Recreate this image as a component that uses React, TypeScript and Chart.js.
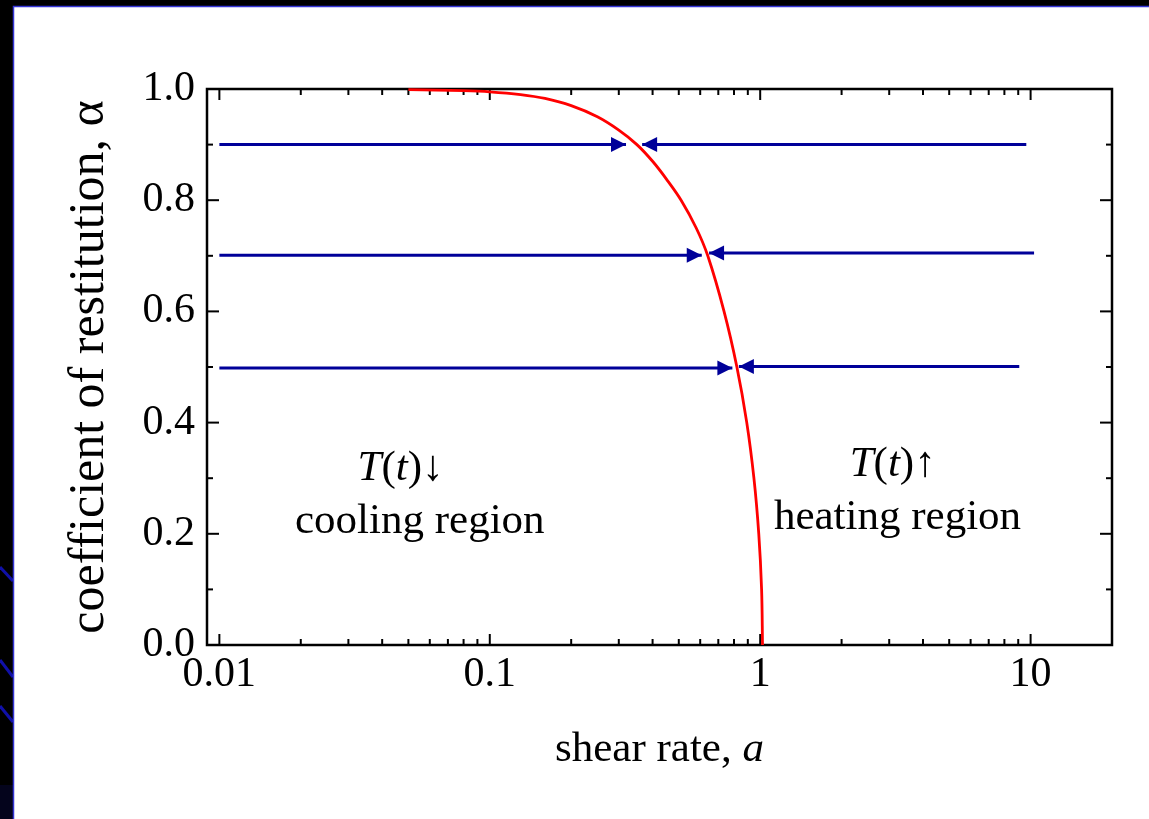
import React, { useEffect, useRef } from 'react';
import { Chart, registerables } from 'chart.js';

Chart.register(...registerables);

// ---- data ----
const curveA = [0.05, 0.08, 0.1, 0.13, 0.16, 0.2, 0.25, 0.3, 0.35, 0.4, 0.45, 0.51, 0.58, 0.64, 0.735, 0.82, 0.892, 0.948, 0.988, 1.012, 1.02];
const curveAlpha = [0.999, 0.997, 0.995, 0.99, 0.983, 0.97, 0.95, 0.926, 0.9, 0.87, 0.838, 0.8, 0.75, 0.7, 0.6, 0.5, 0.4, 0.3, 0.2, 0.1, 0.0];

const leftArrowLevels = [0.9, 0.701, 0.498];
const leftArrowStart = [0.01, 0.01, 0.01];
const leftArrowTip = [0.319, 0.608, 0.789];

const rightArrowLevels = [0.9, 0.705, 0.501];
const rightArrowStart = [9.64, 10.3, 9.08];
const rightArrowTip = [0.366, 0.647, 0.834];

const xMajorTicks = [0.01, 0.1, 1, 10];
const xTickLabels = ['0.01', '0.1', '1', '10'];
const xMinorTicks = [0.02, 0.03, 0.04, 0.05, 0.06, 0.07, 0.08, 0.09, 0.2, 0.3, 0.4, 0.5, 0.6, 0.7, 0.8, 0.9, 2, 3, 4, 5, 6, 7, 8, 9, 20];
const yMajorTicks = [0, 0.2, 0.4, 0.6, 0.8, 1.0];
const yTickLabels = ['0.0', '0.2', '0.4', '0.6', '0.8', '1.0'];
const yMinorTicks = [0.1, 0.3, 0.5, 0.7, 0.9];

const xTitleParts: [string, boolean][] = [['shear rate, ', false], ['a', true]];
const yTitle = 'coefficient of restitution, α';

// annotation texts anchored in data coordinates (a, alpha of baseline)
const annotations: { a: number; alpha: number; parts: [string, boolean][] }[] = [
  { a: 0.0468, alpha: 0.297, parts: [['T', true], ['(', false], ['t', true], [')↓', false]] },
  { a: 0.0551, alpha: 0.2018, parts: [['cooling region', false]] },
  { a: 3.09, alpha: 0.3045, parts: [['T', true], ['(', false], ['t', true], [')↑', false]] },
  { a: 3.22, alpha: 0.209, parts: [['heating region', false]] },
];

const FONT = "'Liberation Serif', 'Times New Roman', serif";
const NAVY = '#000099';

function drawRich(ctx: CanvasRenderingContext2D, parts: [string, boolean][], cx: number, baseline: number, size: number) {
  let total = 0;
  const widths = parts.map(([t, it]) => {
    ctx.font = `${it ? 'italic ' : ''}${size}px ${FONT}`;
    const w = ctx.measureText(t).width;
    total += w;
    return w;
  });
  let x = cx - total / 2;
  ctx.textAlign = 'left';
  ctx.textBaseline = 'alphabetic';
  ctx.fillStyle = '#000';
  parts.forEach(([t, it], i) => {
    ctx.font = `${it ? 'italic ' : ''}${size}px ${FONT}`;
    ctx.fillText(t, x, baseline);
    x += widths[i];
  });
}

const backgroundPlugin = {
  id: 'slideBackground',
  beforeDraw(chart: any) {
    const { ctx, width, height } = chart;
    ctx.save();
    ctx.fillStyle = '#ffffff';
    ctx.fillRect(0, 0, width, height);
    ctx.fillStyle = '#000000';
    ctx.fillRect(0, 0, width, 6);
    ctx.fillRect(0, 0, 13, height);
    ctx.fillStyle = '#04041c';
    ctx.fillRect(0, 785, 13, height - 785);
    ctx.strokeStyle = '#1010a8';
    ctx.lineWidth = 3;
    [[567, 581], [660, 677], [706, 722]].forEach(([y1, y2]) => {
      ctx.beginPath();
      ctx.moveTo(0, y1);
      ctx.lineTo(13, y2);
      ctx.stroke();
    });
    ctx.strokeStyle = '#3535d5';
    ctx.lineWidth = 1.5;
    ctx.beginPath();
    ctx.moveTo(13.5, height);
    ctx.lineTo(13.5, 6.5);
    ctx.lineTo(width, 6.5);
    ctx.stroke();
    ctx.restore();
  },
};

const framePlugin = {
  id: 'frameTicks',
  beforeDatasetsDraw(chart: any) {
    const { ctx, chartArea: ca, scales } = chart;
    const xs = scales.x;
    const ys = scales.y;
    ctx.save();
    ctx.strokeStyle = '#000';
    ctx.lineWidth = 2;
    const tick = (x1: number, y1: number, x2: number, y2: number) => {
      ctx.beginPath();
      ctx.moveTo(x1, y1);
      ctx.lineTo(x2, y2);
      ctx.stroke();
    };
    xMajorTicks.forEach((v) => {
      const px = xs.getPixelForValue(v);
      tick(px, ca.bottom, px, ca.bottom - 11);
      tick(px, ca.top, px, ca.top + 11);
    });
    xMinorTicks.forEach((v) => {
      const px = xs.getPixelForValue(v);
      tick(px, ca.bottom, px, ca.bottom - 6);
      tick(px, ca.top, px, ca.top + 6);
    });
    yMajorTicks.forEach((v) => {
      const py = ys.getPixelForValue(v);
      tick(ca.left, py, ca.left + 12, py);
      tick(ca.right, py, ca.right - 12, py);
    });
    yMinorTicks.forEach((v) => {
      const py = ys.getPixelForValue(v);
      tick(ca.left, py, ca.left + 6, py);
      tick(ca.right, py, ca.right - 6, py);
    });
    ctx.lineWidth = 2.5;
    ctx.strokeRect(ca.left, ca.top, ca.right - ca.left, ca.bottom - ca.top);
    ctx.restore();
  },
  afterDatasetsDraw(chart: any) {
    const { ctx, chartArea: ca, scales } = chart;
    ctx.save();
    // arrow heads
    chart.data.datasets.forEach((ds: any, i: number) => {
      if (!ds.arrow) return;
      const pts = chart.getDatasetMeta(i).data;
      const tip = pts[pts.length - 1];
      const prev = pts[pts.length - 2];
      const dir = Math.sign(tip.x - prev.x) || 1;
      const L = 15;
      const W = 7.5;
      ctx.fillStyle = NAVY;
      ctx.beginPath();
      ctx.moveTo(tip.x, tip.y);
      ctx.lineTo(tip.x - dir * L, tip.y - W);
      ctx.lineTo(tip.x - dir * L, tip.y + W);
      ctx.closePath();
      ctx.fill();
    });
    // annotations
    annotations.forEach((an) => {
      const x = scales.x.getPixelForValue(an.a);
      const y = scales.y.getPixelForValue(an.alpha);
      drawRich(ctx, an.parts, x, y, 43);
    });
    // x axis title
    drawRich(ctx, xTitleParts, (ca.left + ca.right) / 2, ca.bottom + 116, 43);
    ctx.restore();
  },
};

export default function App() {
  const ref = useRef<HTMLCanvasElement>(null);
  useEffect(() => {
    if (!ref.current) return;
    const arrowSets: any[] = [];
    leftArrowLevels.forEach((lvl, i) => {
      arrowSets.push({
        label: `cool${i}`,
        arrow: true,
        data: [
          { x: leftArrowStart[i], y: lvl },
          { x: leftArrowTip[i], y: lvl },
        ],
        borderColor: NAVY,
        borderWidth: 3,
        pointRadius: 0,
        clip: false,
      });
    });
    rightArrowLevels.forEach((lvl, i) => {
      arrowSets.push({
        label: `heat${i}`,
        arrow: true,
        data: [
          { x: rightArrowStart[i], y: lvl },
          { x: rightArrowTip[i], y: lvl },
        ],
        borderColor: NAVY,
        borderWidth: 3,
        pointRadius: 0,
        clip: false,
      });
    });
    const chart = new Chart(ref.current, {
      type: 'line',
      data: {
        datasets: [
          {
            label: 'steady state',
            data: curveA.map((a, i) => ({ x: a, y: curveAlpha[i] })),
            borderColor: '#ff0000',
            borderWidth: 2.8,
            pointRadius: 0,
            tension: 0.35,
            clip: false,
          } as any,
          ...arrowSets,
        ],
      },
      options: {
        responsive: false,
        devicePixelRatio: 1,
        animation: false,
        events: [],
        layout: { padding: { left: 48.4, top: 89, right: 37, bottom: 113.6 } },
        plugins: { legend: { display: false }, tooltip: { enabled: false }, title: { display: false } },
        scales: {
          x: {
            type: 'logarithmic',
            position: 'bottom',
            min: 0.009,
            max: 20,
            afterBuildTicks: (s: any) => {
              s.ticks = xMajorTicks.map((v) => ({ value: v }));
            },
            ticks: {
              autoSkip: false,
              maxRotation: 0,
              padding: 5,
              color: '#000',
              font: { family: FONT, size: 42 },
              callback: (_v: any, i: number) => xTickLabels[i],
            },
            grid: { display: false, drawTicks: false },
            border: { display: false },
          },
          y: {
            type: 'linear',
            min: 0,
            max: 1,
            afterBuildTicks: (s: any) => {
              s.ticks = yMajorTicks.map((v) => ({ value: v }));
            },
            ticks: {
              padding: 12,
              color: '#000',
              font: { family: FONT, size: 42 },
              callback: (_v: any, i: number) => yTickLabels[i],
            },
            grid: { display: false, drawTicks: false },
            border: { display: false },
            title: {
              display: true,
              text: yTitle,
              color: '#000',
              font: { family: FONT, size: 50 },
              padding: { top: 11.6, bottom: 10.5 },
            },
          },
        },
      } as any,
      plugins: [backgroundPlugin, framePlugin],
    });
    return () => chart.destroy();
  }, []);
  return (
    <canvas
      ref={ref}
      width={1149}
      height={819}
      style={{ position: 'absolute', left: 0, top: 0, width: 1149, height: 819, display: 'block' }}
    />
  );
}
